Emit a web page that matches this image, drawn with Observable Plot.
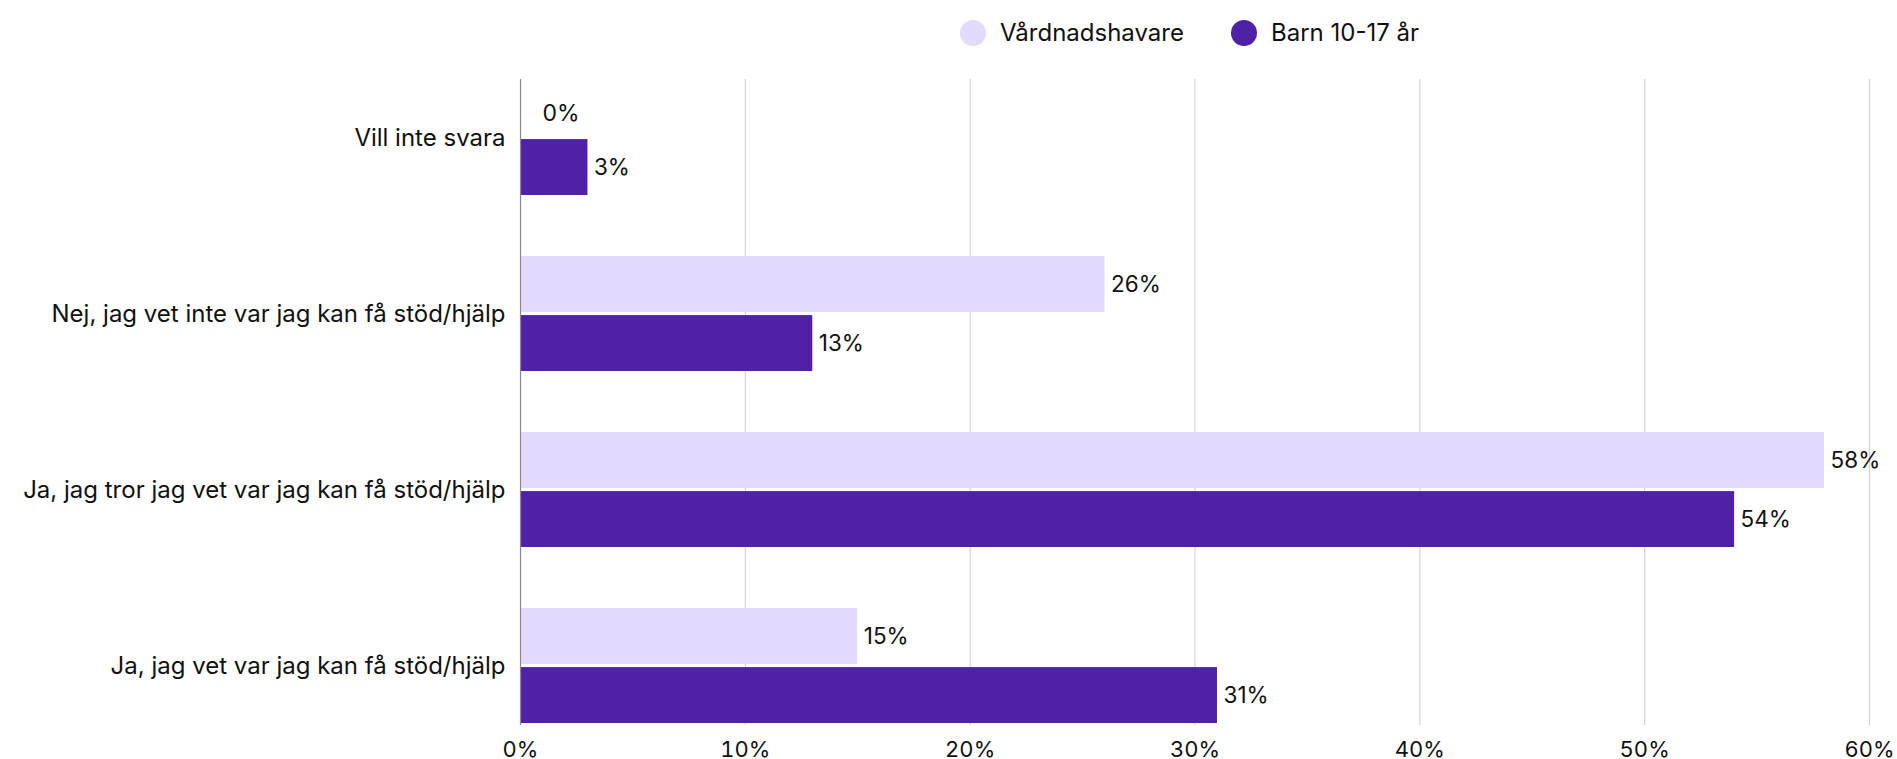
<!DOCTYPE html>
<html>
<head>
<meta charset="utf-8">
<script src="https://cdn.jsdelivr.net/npm/d3@7"></script>
<script src="https://cdn.jsdelivr.net/npm/@observablehq/plot@0.6"></script>
<style>
  html, body { margin: 0; padding: 0; background: #fff; overflow: hidden; }
  body { width: 1897px; height: 759px; font-family: Inter, "Noto Sans", sans-serif; color: #111; }
  #legend { position: relative; height: 64px; }
  .item { position: absolute; top: 20px; display: flex; align-items: center; font-size: 24px; line-height: 26px; }
  .dot { width: 26px; height: 26px; border-radius: 50%; margin-right: 14px; }
  #chart svg g[aria-label="y-axis tick label"] text { font-size: 24px; }
</style>
</head>
<body>
<div id="legend"></div>
<div id="chart"></div>
<script>
const categories = [
  "Vill inte svara",
  "Nej, jag vet inte var jag kan få stöd/hjälp",
  "Ja, jag tror jag vet var jag kan få stöd/hjälp",
  "Ja, jag vet var jag kan få stöd/hjälp"
];
const series = ["Vårdnadshavare", "Barn 10-17 år"];
const vardnadshavare = [0, 26, 58, 15];
const barn = [3, 13, 54, 31];
const xTicks = [0, 10, 20, 30, 40, 50, 60];
const colors = ["#e3dafd", "#4f21a7"];

const data = [];
categories.forEach((c, i) => {
  data.push({category: c, series: series[0], value: vardnadshavare[i]});
  data.push({category: c, series: series[1], value: barn[i]});
});

// legend
const legend = document.getElementById("legend");
const legendLeft = [960, 1231];
series.forEach((s, i) => {
  const it = document.createElement("div");
  it.className = "item";
  it.style.left = legendLeft[i] + "px";
  const dot = document.createElement("span");
  dot.className = "dot";
  dot.style.background = colors[i];
  it.appendChild(dot);
  it.appendChild(document.createTextNode(s));
  legend.appendChild(it);
});

const height = 695, marginTop = 15, marginBottom = 34;
const paddingInner = 0.345;
const plotH = height - marginTop - marginBottom;
const step = plotH / (categories.length - paddingInner);
const band = step * (1 - paddingInner);
const gap = 2.4;
const half = band / 2 + gap / 2;
const off = band / 4 + gap / 4;

const first = data.filter(d => d.series === series[0]);
const second = data.filter(d => d.series === series[1]);

const chart = Plot.plot({
  width: 1897,
  height,
  marginTop,
  marginBottom,
  marginLeft: 520,
  marginRight: 28,
  style: {fontFamily: "Inter, 'Noto Sans', sans-serif", fontSize: "22px", color: "#111", background: "#fff", overflow: "visible"},
  x: {domain: [0, 60], ticks: xTicks, tickFormat: d => d + "%", tickSize: 0, tickPadding: 16, label: null},
  y: {domain: categories, paddingInner, paddingOuter: 0, tickSize: 0, tickPadding: 15, label: null},
  color: {domain: series, range: colors},
  marks: [
    Plot.ruleX(xTicks.filter(t => t > 0), {stroke: "#d4d4d4", strokeWidth: 1.2}),
    Plot.barX(first, {x: "value", y: "category", fill: "series", insetBottom: half}),
    Plot.barX(second, {x: "value", y: "category", fill: "series", insetTop: half}),
    Plot.ruleX([0], {stroke: "#8a8a8a", strokeWidth: 1.2}),
    Plot.axisY({tickSize: 0, tickPadding: 15, fontSize: 24}),
    Plot.text(first.filter(d => d.value > 0), {x: "value", y: "category", text: d => d.value + "%", textAnchor: "start", dx: 6, dy: -off, fill: "#111", fontSize: 22.5}),
    Plot.text(first.filter(d => d.value === 0), {x: "value", y: "category", text: d => d.value + "%", textAnchor: "start", dx: 22, dy: -off + 5, fill: "#111", fontSize: 23}),
    Plot.text(second, {x: "value", y: "category", text: d => d.value + "%", textAnchor: "start", dx: 6, dy: off, fill: "#111", fontSize: 22.5})
  ]
});
document.getElementById("chart").appendChild(chart);
</script>
</body>
</html>
